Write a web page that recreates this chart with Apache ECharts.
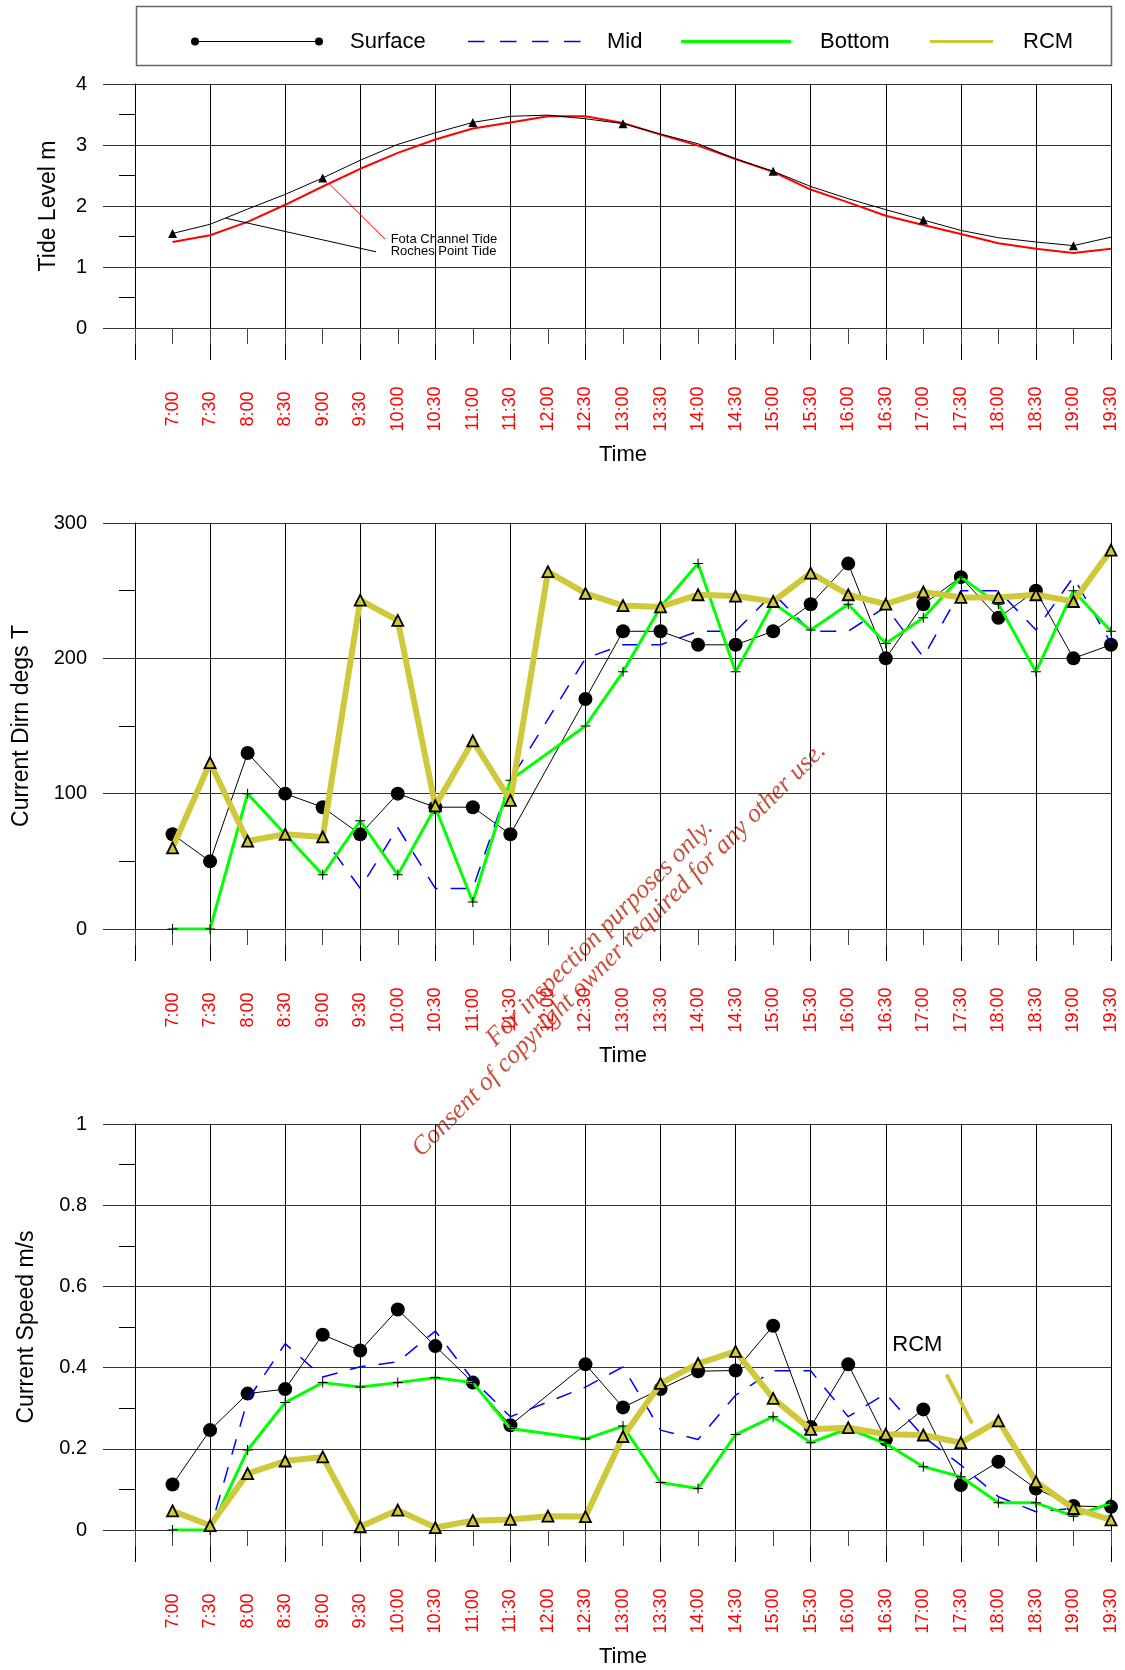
<!DOCTYPE html>
<html>
<head>
<meta charset="utf-8">
<title>Tide level, current direction and current speed</title>
<script src="https://cdn.jsdelivr.net/npm/echarts@6/dist/echarts.min.js"></script>
<style>
  html, body { margin: 0; padding: 0; background: #fff; }
  #chart { width: 1125px; height: 1670px; }
</style>
</head>
<body>
<div id="chart"></div>
<script>
// ---- time axis (half-hour readings) ----
const timeLabels = ['7:00','7:30','8:00','8:30','9:00','9:30','10:00','10:30','11:00','11:30',
  '12:00','12:30','13:00','13:30','14:00','14:30','15:00','15:30','16:00','16:30',
  '17:00','17:30','18:00','18:30','19:00','19:30'];

// ---- tide level (m) ----
const rochesPointTide = [1.55, 1.70, 1.95, 2.19, 2.46, 2.75, 3.01, 3.20, 3.37, 3.47, 3.49, 3.43, 3.35,
  3.18, 3.02, 2.77, 2.57, 2.32, 2.12, 1.94, 1.77, 1.60, 1.48, 1.41, 1.35, 1.49];
const fotaChannelTide = [1.41, 1.52, 1.74, 2.02, 2.32, 2.61, 2.87, 3.09, 3.27, 3.37, 3.47, 3.47, 3.36,
  3.17, 2.99, 2.77, 2.56, 2.27, 2.06, 1.84, 1.69, 1.54, 1.39, 1.30, 1.23, 1.30];
const rochesMarkerTimes = ['7:00','9:00','11:00','13:00','15:00','17:00','19:00'];

// ---- current direction (degrees T) ----
const dirSurface = [70, 50, 130, 100, 90, 70, 100, 90, 90, 70, null, 170, 220, 220, 210, 210, 220, 240,
  270, 200, 240, 260, 230, 250, 200, 210];
const dirMid = [0, 0, 100, 70, 68, 30, 75, 30, 30, 110, null, 200, 210, 210, 220, 220, 248, 220, 220,
  238, 201, 250, 250, 221, 260, 211];
const dirBottom = [0, 0, 100, 70, 40, 80, 40, 90, 20, 110, null, 150, 190, 238, 270, 190, 241, 221, 240,
  211, 230, 260, 240, 190, 250, 220];
const dirRcm = [60, 123, 65, 70, 68, 243, 228, 91, 139, 95, 264, 248, 239, 238, 247, 246, 242, 263, 247,
  240, 249, 245, 245, 247, 242, 280];

// ---- current speed (m/s) ----
const spdSurface = [0.112, 0.246, 0.336, 0.347, 0.481, 0.442, 0.543, 0.453, 0.363, 0.258, null, 0.408,
  0.302, 0.347, 0.391, 0.393, 0.503, 0.254, 0.408, 0.223, 0.297, 0.111, 0.168, 0.102, 0.059, 0.057];
const spdMid = [0, 0, 0.32, 0.459, 0.377, 0.402, 0.414, 0.49, 0.37, 0.279, null, 0.352, 0.402, 0.246,
  0.223, 0.332, 0.392, 0.392, 0.279, 0.336, 0.23, 0.16, 0.082, 0.045, 0.053, 0.033];
const spdBottom = [0, 0, 0.197, 0.314, 0.363, 0.352, 0.363, 0.375, 0.363, 0.25, null, 0.224, 0.256,
  0.117, 0.102, 0.235, 0.279, 0.215, 0.25, 0.213, 0.156, 0.131, 0.067, 0.067, 0.034, 0.066];
const spdRcm = [0.047, 0.011, 0.139, 0.17, 0.18, 0.008, 0.049, 0.006, 0.023, 0.026, 0.034, 0.033, 0.23,
  0.361, 0.41, 0.44, 0.324, 0.248, 0.252, 0.236, 0.234, 0.215, 0.269, 0.119, 0.053, 0.025];

// ---- series names ----
const profileNames = ['Surface', 'Mid', 'Bottom', 'RCM'];

// ---- annotation anchors, in axis units (half-hour slot, value) ----
const fotaLeader = [[5.18, 2.36], [6.66, 1.457]];
const rochesLeader = [[2.42, 1.80], [6.42, 1.249]];
const tideLabelAnchors = [['Fota Channel Tide', 6.81, 1.457], ['Roches Point Tide', 6.81, 1.254]];
const rcmLeader = [[21.62, 0.383], [22.30, 0.262]];
const rcmLabelAnchor = ['RCM', 20.84, 0.455];

// ---------------------------------------------------------------
const FONT = '"Liberation Sans", Arial, Helvetica, sans-serif';
const RCM_COLOR = '#cfc83a';

// minutes after 6:30, in half-hour slots
const toSlot = t => { const p = t.split(':').map(Number); return (p[0] * 60 + p[1] - 390) / 30; };
const slots = timeLabels.map(toSlot);
const pairs = vals => vals.map((v, i) => [slots[i], v]);
const slotLabel = v => {
  const i = slots.findIndex(s => Math.abs(s - v) < 1e-6);
  return i < 0 ? '' : timeLabels[i];
};
const rochesMarkerSlots = rochesMarkerTimes.map(toSlot);

const panels = [
  { top: 84,   height: 244, min: 0, max: 4,   interval: 1,   name: 'Tide Level m',        nameGap: 86 },
  { top: 523,  height: 406, min: 0, max: 300, interval: 100, name: 'Current Dirn degs T', nameGap: 113 },
  { top: 1124, height: 406, min: 0, max: 1,   interval: 0.2, name: 'Current Speed m/s',   nameGap: 108 }
];

const grid = panels.map(p => ({ left: 135, width: 976, top: p.top, height: p.height }));

const xAxis = [];
panels.forEach((p, i) => {
  // hourly grid lines at the half hour, running below the plot
  xAxis.push({
    gridIndex: i, type: 'value', min: 0, max: 26, interval: 2, position: 'bottom',
    axisLine: { show: false },
    axisTick: { show: true, length: 32, lineStyle: { color: '#000', width: 1 } },
    axisLabel: { show: false },
    splitLine: { show: true, lineStyle: { color: '#000', width: 1 } }
  });
  // half-hour ticks with time labels
  xAxis.push({
    gridIndex: i, type: 'value', min: 0, max: 26, interval: 1, position: 'bottom',
    axisLine: { show: false },
    axisTick: { show: true, length: 16, lineStyle: { color: '#444', width: 1 } },
    splitLine: { show: false },
    axisLabel: {
      show: true, rotate: 90, margin: 81, align: 'center', verticalAlign: 'middle',
      color: '#ff0000', fontSize: 18, fontFamily: FONT, formatter: slotLabel
    },
    name: 'Time', nameLocation: 'middle', nameGap: 127,
    nameTextStyle: { color: '#000', fontSize: 22, fontFamily: FONT, verticalAlign: 'middle' }
  });
});

const yAxis = panels.map((p, i) => ({
  gridIndex: i, type: 'value', min: p.min, max: p.max, interval: p.interval,
  axisLine: { show: true, lineStyle: { color: '#000', width: 1 } },
  axisTick: { show: true, length: 32, lineStyle: { color: '#333', width: 1 } },
  minorTick: { show: true, splitNumber: 2, length: 16, lineStyle: { color: '#000', width: 1 } },
  axisLabel: { margin: 48, color: '#000', fontSize: 20, fontFamily: FONT },
  splitLine: { show: true, lineStyle: { color: '#333', width: 1 } },
  name: p.name, nameLocation: 'middle', nameGap: p.nameGap,
  nameTextStyle: { color: '#000', fontSize: 23, fontFamily: FONT, verticalAlign: 'middle' }
}));

const plusPath = 'path://M4.5,0h1v4.5h4.5v1h-4.5v4.5h-1v-4.5h-4.5v-1h4.5z';

function profileSeries(panel, surface, mid, bottom, rcm, extra) {
  const xi = panel * 2, yi = panel;
  const list = [
    {
      name: profileNames[0], type: 'line', xAxisIndex: xi, yAxisIndex: yi, data: pairs(surface),
      connectNulls: true, symbol: 'circle', symbolSize: 14, z: 2,
      itemStyle: { color: '#000' }, lineStyle: { color: '#000', width: 1 }
    },
    {
      name: profileNames[1], type: 'line', xAxisIndex: xi, yAxisIndex: yi, data: pairs(mid),
      connectNulls: true, symbol: 'none', z: 3,
      itemStyle: { color: '#0000ff' }, lineStyle: { color: '#0000ff', width: 1.5, type: [16, 13] }
    },
    {
      name: profileNames[2], type: 'line', xAxisIndex: xi, yAxisIndex: yi, data: pairs(bottom),
      connectNulls: true, symbol: plusPath, symbolSize: 10, z: 4,
      itemStyle: { color: '#000' }, lineStyle: { color: '#00ff00', width: 3 }
    },
    {
      name: profileNames[3], type: 'line', xAxisIndex: xi, yAxisIndex: yi, data: pairs(rcm),
      symbol: 'triangle', symbolSize: 11, z: 5,
      itemStyle: { color: RCM_COLOR, borderColor: '#000', borderWidth: 1.8 },
      lineStyle: { color: RCM_COLOR, width: 6 }
    }
  ];
  if (extra) Object.assign(list[3], extra);
  return list;
}

const series = [
  {
    name: 'Roches Point Tide', type: 'line', xAxisIndex: 0, yAxisIndex: 0, data: pairs(rochesPointTide),
    symbol: v => (rochesMarkerSlots.includes(v[0]) ? 'triangle' : 'none'), symbolSize: 9, z: 3,
    itemStyle: { color: '#000' }, lineStyle: { color: '#000', width: 1 },
    markLine: {
      silent: true, symbol: ['none', 'none'], label: { show: false },
      lineStyle: { color: '#000', width: 1, type: 'solid' },
      data: [[{ coord: rochesLeader[0] }, { coord: rochesLeader[1] }]]
    }
  },
  {
    name: 'Fota Channel Tide', type: 'line', xAxisIndex: 0, yAxisIndex: 0, data: pairs(fotaChannelTide),
    symbol: 'none', z: 2,
    itemStyle: { color: '#ff0000' }, lineStyle: { color: '#ff0000', width: 2 },
    markLine: {
      silent: true, symbol: ['none', 'none'], label: { show: false },
      lineStyle: { color: '#ff0000', width: 1, type: 'solid' },
      data: [[{ coord: fotaLeader[0] }, { coord: fotaLeader[1] }]]
    },
    markPoint: {
      silent: true, symbol: 'circle', symbolSize: 0,
      label: {
        show: true, position: 'inside', align: 'left', verticalAlign: 'middle',
        color: '#000', fontSize: 13, fontFamily: FONT, formatter: '{b}'
      },
      data: tideLabelAnchors.map(a => ({ name: a[0], coord: [a[1], a[2]] }))
    }
  },
  ...profileSeries(1, dirSurface, dirMid, dirBottom, dirRcm),
  ...profileSeries(2, spdSurface, spdMid, spdBottom, spdRcm, {
    markLine: {
      silent: true, symbol: ['none', 'none'], label: { show: false },
      lineStyle: { color: RCM_COLOR, width: 4, type: 'solid' },
      data: [[{ coord: rcmLeader[0] }, { coord: rcmLeader[1] }]]
    },
    markPoint: {
      silent: true, symbol: 'circle', symbolSize: 0,
      label: {
        show: true, position: 'inside', align: 'center', verticalAlign: 'middle',
        color: '#000', fontSize: 22, fontFamily: FONT, formatter: '{b}'
      },
      data: [{ name: rcmLabelAnchor[0], coord: [rcmLabelAnchor[1], rcmLabelAnchor[2]] }]
    }
  })
];

// ---- legend box drawn across the top ----
const LEG_Y = 41.5;
const legendFont = '22px ' + FONT;
const legendGraphic = [
  { type: 'rect', shape: { x: 136.5, y: 6.5, width: 975, height: 59 },
    style: { fill: '#fff', stroke: '#666', lineWidth: 1.5 } },
  { type: 'line', shape: { x1: 195, y1: LEG_Y, x2: 319, y2: LEG_Y }, style: { stroke: '#000', lineWidth: 1 } },
  { type: 'circle', shape: { cx: 195, cy: LEG_Y, r: 4 }, style: { fill: '#000' } },
  { type: 'circle', shape: { cx: 319, cy: LEG_Y, r: 4 }, style: { fill: '#000' } },
  { type: 'text', x: 350, y: LEG_Y, style: { text: profileNames[0], font: legendFont, fill: '#000', verticalAlign: 'middle' } },
  { type: 'line', shape: { x1: 468, y1: LEG_Y, x2: 583, y2: LEG_Y },
    style: { stroke: '#0000ff', lineWidth: 1.5, lineDash: [16.5, 15.5] } },
  { type: 'text', x: 607, y: LEG_Y, style: { text: profileNames[1], font: legendFont, fill: '#000', verticalAlign: 'middle' } },
  { type: 'line', shape: { x1: 681, y1: LEG_Y, x2: 791, y2: LEG_Y }, style: { stroke: '#00ff00', lineWidth: 3 } },
  { type: 'text', x: 820, y: LEG_Y, style: { text: profileNames[2], font: legendFont, fill: '#000', verticalAlign: 'middle' } },
  { type: 'line', shape: { x1: 930, y1: LEG_Y, x2: 993, y2: LEG_Y }, style: { stroke: RCM_COLOR, lineWidth: 3 } },
  { type: 'text', x: 1023, y: LEG_Y, style: { text: profileNames[3], font: legendFont, fill: '#000', verticalAlign: 'middle' } }
];

// ---- diagonal copyright notice ----
const noticeFont = 'italic 26px "Liberation Serif", "Times New Roman", serif';
const noticeGraphic = {
  type: 'group', x: 609.5, y: 941.5, rotation: Math.PI / 4, z: 100, silent: true,
  children: [
    { type: 'text', x: -1, y: -12.75, style: { text: 'For inspection purposes only.', font: noticeFont,
      fill: '#c8503c', align: 'center', verticalAlign: 'middle' } },
    { type: 'text', x: 1, y: 12.75, style: { text: 'Consent of copyright owner required for any other use.',
      font: noticeFont, fill: '#c8503c', align: 'center', verticalAlign: 'middle' } }
  ]
};

const chart = echarts.init(document.getElementById('chart'), null, { renderer: 'canvas' });
chart.setOption({
  animation: false,
  backgroundColor: '#fff',
  grid, xAxis, yAxis, series,
  graphic: [...legendGraphic, noticeGraphic]
});
</script>
</body>
</html>
